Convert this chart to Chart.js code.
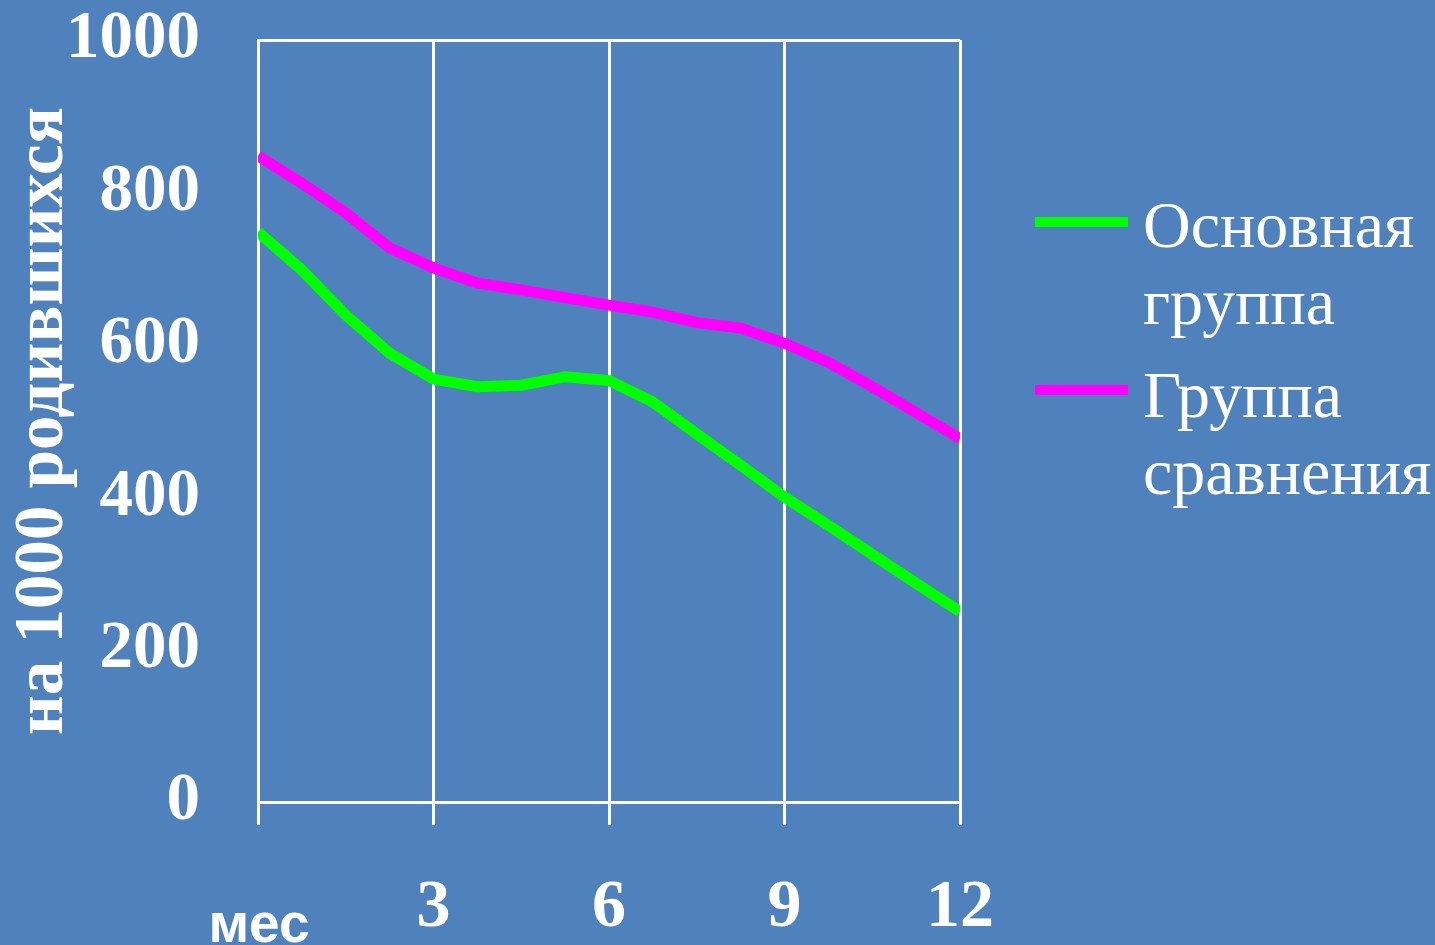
<!DOCTYPE html>
<html>
<head>
<meta charset="utf-8">
<script src="https://cdn.jsdelivr.net/npm/chart.js@4.4.1/dist/chart.umd.min.js"></script>
<style>
  html, body { margin: 0; padding: 0; background: #4F81BD; }
  canvas { display: block; }
</style>
</head>
<body>
<canvas id="grafikBayi" width="1435" height="945"></canvas>
<script>
// bulan (mes) - titik data setiap 0.75 bulan
const bulan = [0, 0.75, 1.5, 2.25, 3, 3.75, 4.5, 5.25, 6, 6.75, 7.5, 8.25, 9, 9.75, 10.5, 11.25, 12];
// Основная группа
const osnovnaya = [748, 698, 639, 589, 555, 545, 547, 558, 553, 525, 483, 442, 400, 363, 325, 287, 250];
// Группа сравнения
const sravneniya = [848, 812, 773, 727, 701, 681, 672, 662, 652, 643, 629, 622, 602, 577, 545, 511, 477];
const namaSeri = ['Основная группа', 'Группа сравнения'];
const warnaSeri = ['#00FF00', '#FF00FF'];
const tickX = [3, 6, 9, 12];
const judulY = 'на 1000 родившихся';
const labelX = 'мес';

const putih = '#FFFFFF';
const serif = '"Liberation Serif", "Times New Roman", serif';

// latar belakang biru
const latar = {
  id: 'latar',
  beforeDraw(chart) {
    const c = chart.ctx;
    c.save();
    c.fillStyle = '#4F81BD';
    c.fillRect(0, 0, chart.width, chart.height);
    c.restore();
  }
};

// legenda di kanan + tulisan "мес"
const legendaKanan = {
  id: 'legendaKanan',
  afterDraw(chart) {
    const c = chart.ctx;
    c.save();
    chart.data.datasets.forEach((ds, i) => {
      const yGaris = 222 + i * 168;
      c.strokeStyle = ds.borderColor;
      c.lineWidth = 10;
      c.beginPath();
      c.moveTo(1035, yGaris);
      c.lineTo(1128, yGaris);
      c.stroke();
      c.fillStyle = putih;
      c.font = '66px ' + serif;
      c.textAlign = 'left';
      c.textBaseline = 'alphabetic';
      ds.label.split(' ').forEach((kata, j) => {
        c.fillText(kata, 1143, 247 + i * 170 + j * 77);
      });
    });
    c.font = 'bold 55px "Liberation Sans", Arial, sans-serif';
    c.textAlign = 'center';
    c.fillText(labelX, 259, 942);
    c.restore();
  }
};

new Chart(document.getElementById('grafikBayi'), {
  type: 'line',
  data: {
    datasets: namaSeri.map((nama, i) => ({
      label: nama,
      data: bulan.map((b, k) => ({ x: b, y: (i === 0 ? osnovnaya : sravneniya)[k] })),
      borderColor: warnaSeri[i],
      borderWidth: 11,
      borderCapStyle: 'butt',
      borderJoinStyle: 'miter',
      pointRadius: 0,
      tension: 0,
      fill: false
    }))
  },
  options: {
    responsive: false,
    animation: false,
    devicePixelRatio: 1,
    layout: { padding: { top: 40, right: 475, bottom: 0, left: 0 } },
    plugins: {
      legend: { display: false },
      tooltip: { enabled: false }
    },
    scales: {
      x: {
        type: 'linear',
        min: 0,
        max: 12,
        afterBuildTicks: (s) => { s.ticks = [0].concat(tickX).map(v => ({ value: v })); },
        afterFit: (s) => { s.height = 143; s.paddingLeft = 0; s.paddingRight = 0; },
        grid: { color: putih, lineWidth: 3, tickLength: 23, drawOnChartArea: true },
        border: { color: putih, width: 3 },
        ticks: {
          color: putih,
          font: { family: serif, size: 68, weight: 'bold' },
          padding: 43,
          maxRotation: 0,
          callback: (v) => (v === 0 ? '' : String(v))
        }
      },
      y: {
        min: 0,
        max: 1000,
        afterFit: (s) => { s.width = 258; s.paddingTop = 0; s.paddingBottom = 0; },
        ticks: {
          stepSize: 200,
          color: putih,
          padding: 58,
          font: { family: serif, size: 67, weight: 'bold' },
          callback: (v) => String(v)
        },
        grid: {
          drawTicks: false,
          lineWidth: 3,
          color: (ctx) => (ctx.tick && ctx.tick.value === 1000 ? putih : 'rgba(0,0,0,0)')
        },
        border: { color: putih, width: 3 },
        title: {
          display: true,
          text: judulY,
          color: putih,
          padding: { top: 3, bottom: 0 },
          font: { family: serif, size: 69, weight: 'bold' }
        }
      }
    }
  },
  plugins: [latar, legendaKanan]
});
</script>
</body>
</html>
